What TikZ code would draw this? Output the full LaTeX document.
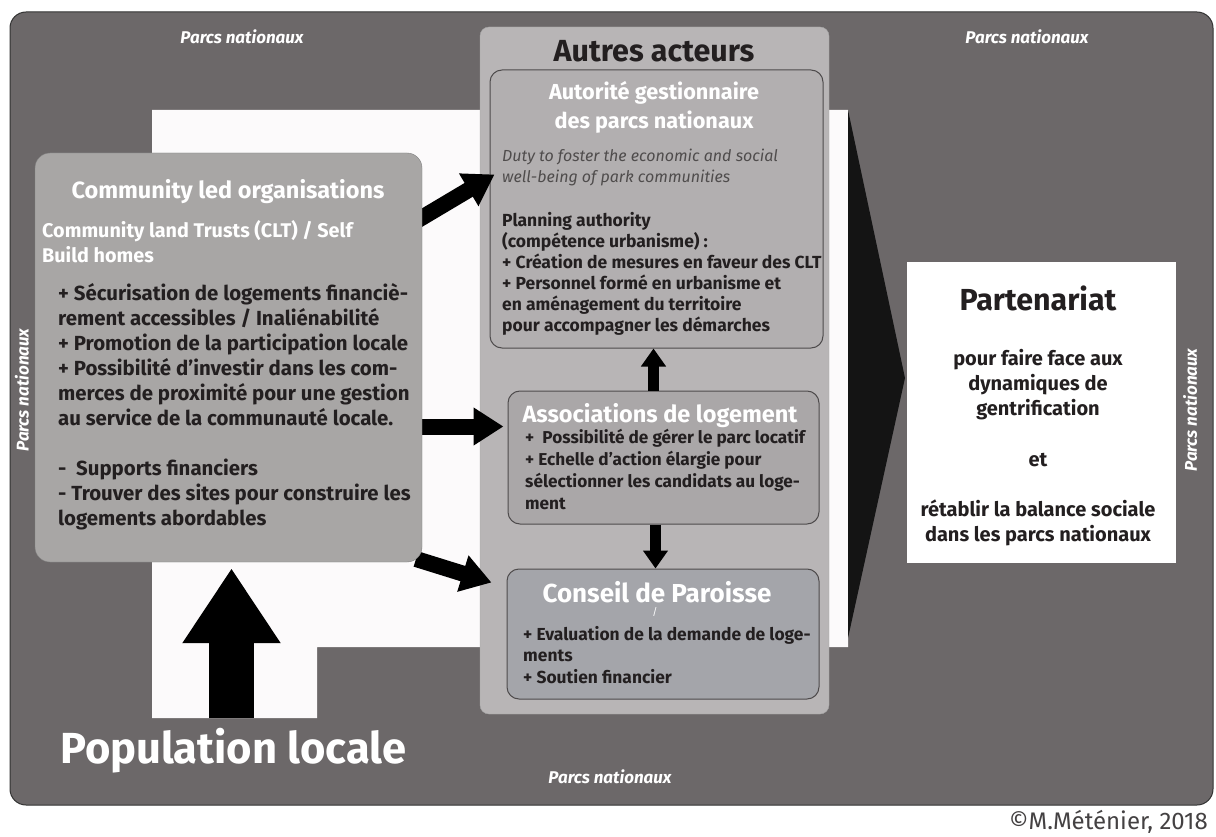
\documentclass[tikz,border=0pt]{standalone}
\usepackage{fontspec}
\setmainfont{Fira Sans}
\usepackage{xcolor}
\usetikzlibrary{arrows.meta,positioning,calc}
\definecolor{parcgray}{RGB}{108,104,105}
\definecolor{panelgray}{RGB}{184,181,182}
\definecolor{cardgray}{RGB}{178,175,176}
\definecolor{assocgray}{RGB}{170,167,168}
\definecolor{conseilgray}{RGB}{164,165,170}
\definecolor{clogray}{RGB}{168,166,165}
\definecolor{edgegray}{RGB}{78,75,76}
\definecolor{ink}{RGB}{35,31,32}
\definecolor{paper}{RGB}{252,250,251}

\begin{document}
\begin{tikzpicture}[
  x=1pt, y=-1pt,
  card/.style={draw=edgegray, line width=1pt, rounded corners=12pt, inner sep=0pt},
  titlew/.style={text=white, font=\bfseries\fontsize{22}{29}\selectfont, inner sep=0pt, align=center, anchor=base},
  body/.style={text=ink, font=\bfseries\fontsize{17.5}{21}\selectfont, inner sep=0pt, align=left, anchor=base west},
  park/.style={text=white, font=\bfseries\itshape\fontsize{17}{20}\selectfont, inner sep=0pt},
  blk/.style={draw=black, line width=16pt, -{Triangle[length=30pt, width=36pt]}},
  stem/.style={draw=black, line width=11pt, -{Triangle[length=18pt, width=24pt]}},
  bigblk/.style={draw=black, line width=45pt, -{Triangle[length=75pt, width=93pt]}}
]
  \useasboundingbox (0,0) rectangle (1216,837);
  \node[draw=black!80, fill=parcgray, rounded corners=16pt, line width=1pt, minimum width=1203pt, minimum height=793pt] (parc) at (611.5,408.5) {};
  \fill[paper] (152,110) -- (848,110) -- (848,647) -- (317,647) -- (317,718) -- (152,718) -- cycle;
  \fill[black!92] (848,110) -- (905,378) -- (848,638) -- cycle;

  \node[draw=gray!70, fill=panelgray, rounded corners=9pt, minimum width=349pt, minimum height=687pt] (autres) at (654.5,370.5) {};
  \node[card, fill=cardgray, minimum width=333pt, minimum height=278pt] (aut) at (656.5,209) {};
  \node[card, fill=assocgray, minimum width=311pt, minimum height=133pt] (assoc) at (663.5,457.5) {};
  \node[card, fill=conseilgray, minimum width=312pt, minimum height=130pt] (conseil) at (663,634) {};
  \node[fill=white, minimum width=269pt, minimum height=301pt] (part) at (1041.5,412.5) {};

  \draw[blk] ([xshift=-4pt, yshift=-67pt]422,153) coordinate (a1) -- ([xshift=5pt, yshift=-105pt]aut.north west);
  \draw[blk] ([xshift=-6pt, yshift=-69pt]422,357.5) coordinate (a2) -- ([xshift=-4pt]a2 -| assoc.west);
  \draw[blk] ([xshift=-6pt]422,559) coordinate (a3) -- ([xshift=-15pt, yshift=-14pt]conseil.north west);
  \node[draw=gray, fill=clogray, rounded corners=15pt, minimum width=387pt, minimum height=409pt] (clo) at (228.5,357.5) {};

  \draw[stem] ([xshift=-10pt]assoc.north) -- ([xshift=-10pt]assoc.north |- aut.south);
  \draw[stem] ([xshift=-8pt]assoc.south) -- ([xshift=-8pt]assoc.south |- conseil.north);
  \coordinate (popfoot) at (231.5,718);
  \draw[bigblk, shorten >=6pt] (popfoot) -- (popfoot |- clo.south);

  \node[park] (pn1) at (242,37) {Parcs nationaux};
  \node[park] (pn2) at (1027,37) {Parcs nationaux};
  \node[park] (pn3) at (610,777) {Parcs nationaux};
  \node[park, rotate=90] (pn4) at (22,390) {Parcs nationaux};
  \node[park, rotate=90] (pn5) at (1190,410) {Parcs nationaux};
  \node[text=white, font=\bfseries\fontsize{43.5}{50}\selectfont, anchor=base west, inner sep=0pt] (pop) at (60,763) {Population locale};
  \node[text=ink!85, font=\fontsize{24}{28}\selectfont, anchor=base east, inner sep=0pt] (copy) at (1208,829) {©M.Méténier, 2018};

  \node[text=ink, font=\bfseries\fontsize{30.5}{36}\selectfont, anchor=base, inner sep=0pt] (aatitle) at (654,62) {Autres acteurs};
  \node[titlew, font=\bfseries\fontsize{21.7}{29}\selectfont] (auttitle) at (654,129) {Autorité gestionnaire\\des parcs nationaux};
  \node[body, font=\itshape\fontsize{16}{21}\selectfont, text=ink!80] (duty) at (502,183) {Duty to foster the economic and social\\well-being of park communities};
  \node[body] (plan) at (502,331) {Planning authority\\(compétence urbanisme) :\\+ Création de mesures en faveur des CLT\\+ Personnel formé en urbanisme et\\en aménagement du territoire\\pour accompagner les démarches};

  \node[titlew, font=\bfseries\fontsize{23.5}{25}\selectfont] (assoctitle) at (660,422) {Associations de logement};
  \node[body, font=\bfseries\fontsize{17.2}{21.7}\selectfont] (assoctext) at (525,509) {+~~Possibilité de gérer le parc locatif\\+ Echelle d'action élargie pour\\sélectionner les candidats au loge-\\ment};

  \node[titlew, font=\bfseries\fontsize{26}{28}\selectfont] (conseiltitle) at (657,602) {Conseil de Paroisse};
  \node[text=white, font=\fontsize{10}{12}\selectfont, inner sep=0pt] (slash) at (655,612) {/};
  \node[body, font=\bfseries\fontsize{17.4}{21.5}\selectfont] (conseiltext) at (523,683) {+ Evaluation de la demande de loge-\\ments\\+ Soutien financier};

  \node[titlew, font=\bfseries\fontsize{23.5}{29}\selectfont] (clotitle) at (228,199) {Community led organisations};
  \node[body, text=white, font=\bfseries\fontsize{19.8}{25}\selectfont] (clt) at (42,263) {Community land Trusts (CLT) / Self\\Build homes};
  \node[body, font=\bfseries\fontsize{20.4}{25}\selectfont] (clotext) at (58,525) {+ Sécurisation de logements financiè-\\rement accessibles / Inaliénabilité\\+ Promotion de la participation locale\\+ Possibilité d'investir dans les com-\\merces de proximité pour une gestion\\au service de la communauté locale.\\[25pt]-~~Supports financiers\\- Trouver des sites pour construire les\\logements abordables};

  \node[text=ink, font=\bfseries\fontsize{30.4}{34}\selectfont, anchor=base, inner sep=0pt] (parttitle) at (1038,310) {Partenariat};
  \node[text=ink, font=\bfseries\fontsize{20}{25}\selectfont, align=center, anchor=base, inner sep=0pt] (parttext) at (1038,541) {pour faire face aux\\dynamiques de\\gentrification\\[26pt]et\\[25pt]rétablir la balance sociale\\dans les parcs nationaux};
\end{tikzpicture}
\end{document}
